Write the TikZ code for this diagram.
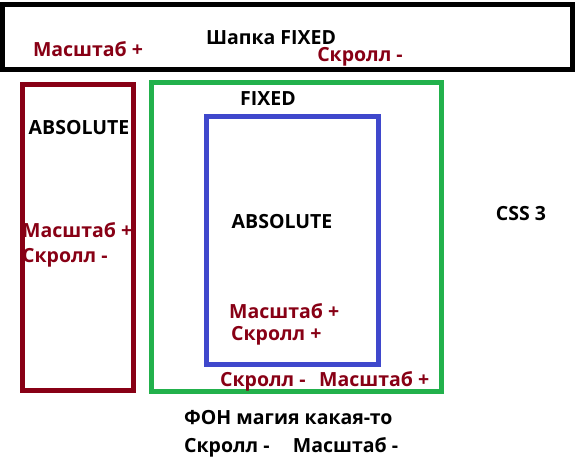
\documentclass[tikz,border=0pt]{standalone}
\usepackage{fontspec}
\setmainfont{Open Sans}
\definecolor{pmaroon}{HTML}{880015}
\definecolor{pgreen}{HTML}{22B14C}
\definecolor{pblue}{HTML}{3F48CC}
\begin{document}
\begin{tikzpicture}[x=1pt,y=-1pt,
  lbl/.style={font=\bfseries\fontsize{19.5}{22}\selectfont, inner sep=0pt},
  red/.style={lbl, text=pmaroon},
  box/.style={line width=5pt}]
\useasboundingbox[fill=white] (0,0) rectangle (575,472);
\draw[box,black] (2.5,4) rectangle (572.5,69);
\draw[box,pmaroon] (22,84) rectangle (133,390);
\draw[box,pgreen] (151,82) rectangle (441,391);
\draw[box,pblue] (206,116) rectangle (378,364);
\node[lbl] (hdr) at (271,38) {Шапка FIXED};
\node[red] (h1) at (88,49) {Масштаб +};
\node[red] (h2) at (360,57) {Скролл -};
\node[lbl] (abs1) at (79,128) {ABSOLUTE};
\node[red,anchor=west] (l1) at (22,230) {Масштаб +};
\node[red,anchor=west] (l2) at (22,258) {Скролл -};
\node[lbl] (fx) at (268,99) {FIXED};
\node[lbl] (abs2) at (282,222) {ABSOLUTE};
\node[red,anchor=west] (b1) at (229,311) {Масштаб +};
\node[red,anchor=west] (b2) at (231,336) {Скролл +};
\node[red,anchor=west] (g1) at (220,381) {Скролл -\hspace{0.7em}Масштаб +};
\node[lbl,anchor=west] (f1) at (184,418) {ФОН магия какая-то};
\node[lbl,anchor=west] (f2) at (184,447) {Скролл -\hspace{1.2em}Масштаб -};
\node[lbl] (css) at (521,214) {CSS 3};
\end{tikzpicture}
\end{document}
